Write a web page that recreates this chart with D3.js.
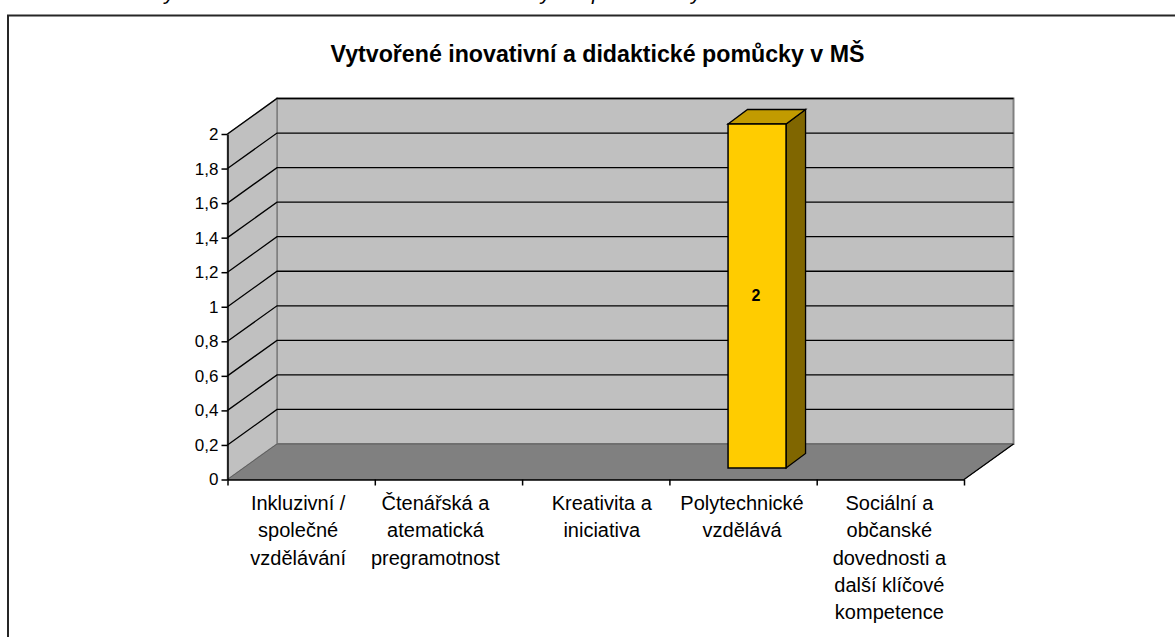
<!DOCTYPE html>
<html><head><meta charset="utf-8">
<script src="https://cdn.jsdelivr.net/npm/d3@7/dist/d3.min.js"></script>
<style>html,body{margin:0;padding:0;background:#fff;overflow:hidden}svg{display:block}text{font-family:"Liberation Sans",Arial,sans-serif;fill:#000}</style>
</head><body><svg id="c" width="1175" height="637"></svg>
<script>
const categories=[["Inkluzivní /","společné","vzdělávání"],["Čtenářská a","atematická","pregramotnost"],["Kreativita a","iniciativa"],["Polytechnické","vzdělává"],["Sociální a","občanské","dovednosti a","další klíčové","kompetence"]];
const values=[0,0,0,2,0];
const ticks=[0,0.2,0.4,0.6,0.8,1,1.2,1.4,1.6,1.8,2];
const title="Vytvořené inovativní a didaktické pomůcky v MŠ";
const caption="Graf č. 7: Vytvořené inovativní materiály a pomůcky v MŠ";
const svg=d3.select("#c");
const dx=49.5,dy=-35.5;
const y=d3.scaleLinear().domain([0,2]).range([479.5,134]);
const x=d3.scaleBand().domain(d3.range(categories.length)).range([227.5,964]);
const x0=227.5,x1=964,y0=y(0),y2=y(2);
const poly=(pts,fill,stroke,sw)=>svg.append("polygon").attr("points",pts.map(p=>p.join(",")).join(" ")).attr("fill",fill).attr("stroke",stroke||"none").attr("stroke-width",sw||0).attr("stroke-linejoin","miter");
const line=(a,b,c,w)=>svg.append("line").attr("x1",a[0]).attr("y1",a[1]).attr("x2",b[0]).attr("y2",b[1]).attr("stroke",c).attr("stroke-width",w);
// caption clipped by top edge + frame
svg.append("text").attr("x",7).attr("y",0).attr("font-size",21).attr("font-style","italic").attr("textLength",770).text(caption);
svg.append("path").attr("d","M8,637V15.5H1175").attr("fill","none").attr("stroke","#000").attr("stroke-width",2).attr("opacity",0.85);
// walls
poly([[x0+dx,y2+dy],[x1+dx,y2+dy],[x1+dx,y0+dy],[x0+dx,y0+dy]],"#c0c0c0","#808080",2);
poly([[x0,y2],[x0+dx,y2+dy],[x0+dx,y0+dy],[x0,y0]],"#c0c0c0","#808080",1.5);
poly([[x0,y0],[x0+dx,y0+dy],[x1+dx,y0+dy],[x1,y0]],"#808080","#5f5f5f",1);
// gridlines
ticks.filter(t=>t>0).forEach(t=>{
  const p=y(t);
  svg.append("polyline").attr("points",`${x0},${p} ${x0+dx},${p+dy} ${x1+dx},${p+dy}`).attr("fill","none").attr("stroke","#000").attr("stroke-width",1.3);
});
line([x1,y0],[x1+dx,y0+dy],"#000",1.2);
// axes
const ya=d3.axisLeft(y).tickValues(ticks).tickSize(6).tickSizeOuter(0).tickPadding(3).tickFormat(d=>String(d).replace(".",","));
const yg=svg.append("g").attr("transform",`translate(${x0},0)`).call(ya);
yg.selectAll("text").attr("font-size",17).style("font-family",'"Liberation Sans",Arial,sans-serif').attr("fill","#000");
yg.selectAll("line,path").attr("stroke","#000").attr("stroke-width",1.5);
const xs=d3.scaleLinear().domain([0,categories.length]).range([x0,x1]);
const xa=d3.axisBottom(xs).tickValues(d3.range(categories.length+1)).tickSize(6).tickSizeOuter(0).tickFormat("");
const xg=svg.append("g").attr("transform",`translate(0,${y0})`).call(xa);
xg.selectAll("line,path").attr("stroke","#000").attr("stroke-width",1.5);
// category labels
const labelShift=[-3,-13,6,-1,-1];
categories.forEach((lines,i)=>{
  const cx=x(i)+x.bandwidth()/2+labelShift[i];
  lines.forEach((l,j)=>svg.append("text").attr("x",cx).attr("y",510+j*27.3).attr("text-anchor","middle").attr("font-size",20).text(l));
});
// bars
const bw=58,bdx=19.5,bdy=-14.5,bfloor=-11.5;
values.forEach((v,i)=>{
  if(!v)return;
  const cx=x(i)+x.bandwidth()/2+13.5;
  const l=cx-bw/2+0.5,r=l+bw;
  const bottom=y(0)+bfloor,top=y(v)-10;
  poly([[r,top],[r+bdx,top+bdy],[r+bdx,bottom+bdy],[r,bottom]],"#806600","#000",1.3);
  poly([[l,top],[l+bdx,top+bdy],[r+bdx,top+bdy],[r,top]],"#c29b00","#000",1.3);
  poly([[l,top],[r,top],[r,bottom],[l,bottom]],"#ffcc00","#000",1.5);
  svg.append("text").attr("x",(l+r)/2-1).attr("y",300.5).attr("text-anchor","middle").attr("font-size",16).attr("font-weight","bold").text(v);
});
svg.append("text").attr("x",597.5).attr("y",62).attr("text-anchor","middle").attr("font-size",23.2).attr("font-weight","bold").text(title);
</script></body></html>
